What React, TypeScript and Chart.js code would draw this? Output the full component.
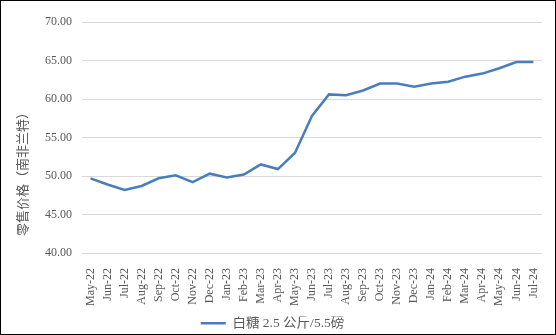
import React, { useEffect, useRef } from "react";
import { Chart, registerables } from "chart.js";

Chart.register(...registerables);

const months = [
  "May-22", "Jun-22", "Jul-22", "Aug-22", "Sep-22", "Oct-22", "Nov-22", "Dec-22",
  "Jan-23", "Feb-23", "Mar-23", "Apr-23", "May-23", "Jun-23", "Jul-23", "Aug-23",
  "Sep-23", "Oct-23", "Nov-23", "Dec-23", "Jan-24", "Feb-24", "Mar-24", "Apr-24",
  "May-24", "Jun-24", "Jul-24",
];

const sugarPrice = [
  49.7, 48.9, 48.2, 48.7, 49.7, 50.1, 49.2, 50.3, 49.8, 50.2, 51.5, 50.9, 53.0,
  57.8, 60.6, 60.5, 61.1, 62.0, 62.0, 61.6, 62.0, 62.25, 62.9, 63.3, 64.0, 64.8,
  64.8,
];

const seriesLabel = "白糖 2.5 公斤/5.5磅";
const yTitle = "零售价格（南非兰特）";

const yTitlePlugin = {
  id: "yTitleCentered",
  afterDraw(chart: any) {
    const ctx = chart.ctx;
    ctx.save();
    ctx.translate(21, 170);
    ctx.rotate(-Math.PI / 2);
    ctx.textAlign = "center";
    ctx.textBaseline = "middle";
    ctx.fillStyle = "#595959";
    ctx.font = '13px "Noto Sans CJK SC"';
    ctx.fillText(yTitle, 0, 0);
    ctx.restore();
  },
};

export default function App() {
  const ref = useRef<HTMLCanvasElement | null>(null);

  useEffect(() => {
    document.body.style.margin = "0";
    const canvas = ref.current;
    if (!canvas) return;
    const chart = new Chart(canvas, {
      type: "line",
      data: {
        labels: months,
        datasets: [
          {
            label: seriesLabel,
            data: sugarPrice,
            borderColor: "#4A7EBB",
            backgroundColor: "#4A7EBB",
            borderWidth: 2.5,
            pointRadius: 0,
            tension: 0,
          },
        ],
      },
      options: {
        responsive: false,
        animation: false,
        layout: { padding: { left: 0, right: 11, top: 21, bottom: -6 } },
        plugins: {
          tooltip: { enabled: false },
          legend: {
            position: "bottom",
            labels: {
              usePointStyle: true,
              pointStyle: "line",
              pointStyleWidth: 25,
              boxHeight: 13.5,
              color: "#595959",
              font: { family: '"Liberation Serif", "Noto Sans CJK SC", serif', size: 13.5 },
              padding: 0,
            },
          },
        },
        scales: {
          x: {
            offset: true,
            grid: { display: false },
            border: { display: false },
            afterFit(scale: any) {
              scale.height = 63.5;
            },
            ticks: {
              autoSkip: false,
              maxRotation: 90,
              minRotation: 90,
              color: "#595959",
              padding: 7,
              font: { family: '"Liberation Serif", serif', size: 12 },
            },
          },
          y: {
            min: 40,
            max: 70,
            border: { display: false },
            grid: { color: "#d9d9d9", lineWidth: 1, drawTicks: false },
            afterFit(scale: any) {
              scale.width = 81;
            },
            ticks: {
              stepSize: 5,
              padding: 10,
              color: "#595959",
              font: { family: '"Liberation Serif", serif', size: 12 },
              callback: (v: any) => Number(v).toFixed(2),
            },
          },
        },
      },
      plugins: [yTitlePlugin],
    });
    return () => chart.destroy();
  }, []);

  return (
    <div
      style={{
        width: 556,
        height: 335,
        border: "1px solid #000",
        boxSizing: "border-box",
        background: "#fff",
      }}
    >
      <canvas ref={ref} width={554} height={333} style={{ display: "block" }} />
    </div>
  );
}
